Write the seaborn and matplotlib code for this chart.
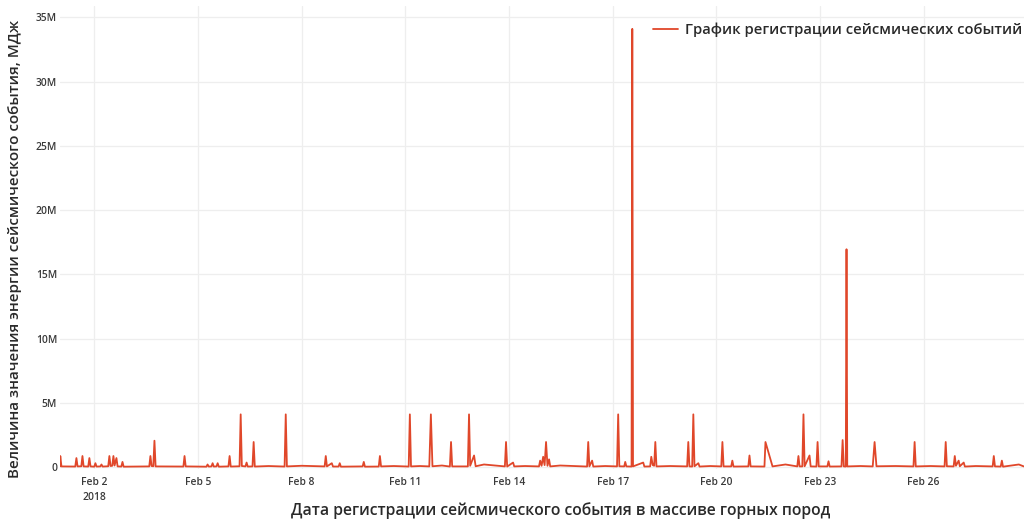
import matplotlib
matplotlib.use("Agg")
import matplotlib.pyplot as plt
import matplotlib.ticker as mticker
import numpy as np
import pandas as pd
import seaborn as sns

# hours since 2018-02-01 00:00 and energy of the event, millions of MJ
hours = [
    0.0, 0.3, 1.1, 10.7, 11.5, 12.3, 14.9, 15.7, 16.5, 19.7, 20.5, 21.3,
    23.9, 24.7, 25.5, 28.1, 28.9, 29.7, 33.6, 34.4, 35.2, 36.4, 37.2, 38.0,
    39.3, 40.1, 42.7, 43.5, 44.3, 62.1, 62.9, 63.7, 64.9, 65.7, 66.5, 85.8,
    86.6, 87.4, 101.8, 102.6, 103.4, 105.3, 106.1, 106.9, 108.8, 109.6, 110.4,
    117.1, 117.9, 118.7, 124.8, 125.6, 126.4, 128.9, 129.7, 130.5, 133.8,
    134.6, 135.4, 145.0, 156.1, 156.9, 157.7, 164.5, 168.0, 173.6, 183.9,
    184.7, 185.5, 188.9, 189.7, 193.6, 194.4, 195.2, 210.3, 211.1, 211.9,
    221.5, 222.3, 223.1, 232.0, 242.3, 243.1, 243.9, 250.1, 256.6, 257.7,
    258.8, 265.4, 270.9, 271.7, 272.5, 283.4, 284.2, 285.0, 287.7, 288.8,
    294.6, 302.3, 309.1, 309.9, 310.7, 314.8, 315.6, 323.1, 332.8, 333.6,
    334.6, 335.7, 336.7, 337.7, 338.7, 339.8, 340.6, 347.5, 357.9, 366.2,
    367.0, 367.8, 369.7, 370.5, 378.8, 387.0, 387.8, 388.6, 392.0, 392.7,
    393.5, 397.1, 397.6, 398.1, 405.2, 406.0, 410.0, 410.8, 411.8, 412.8,
    413.6, 414.4, 424.0, 435.7, 436.5, 437.3, 439.2, 440.0, 440.8, 443.5,
    444.3, 451.8, 459.4, 460.2, 461.0, 466.3, 467.1, 467.9, 478.2, 479.0,
    479.8, 489.4, 490.1, 495.0, 504.0, 512.2, 513.0, 513.8, 515.7, 516.5,
    517.3, 520.7, 521.5, 525.5, 526.3, 527.1, 533.1, 533.9, 534.7, 542.9,
    543.7, 544.5, 545.9, 546.4, 546.9, 556.2, 564.6, 565.9, 567.2, 580.5,
    592.9, 593.7, 594.5, 604.9, 614.5, 615.3, 616.1, 620.8, 621.6, 622.4,
    624.3, 625.1, 627.8, 628.6, 636.2, 647.9, 648.7, 649.5, 653.5, 654.3,
    655.1, 666.1, 669.5,
]
energy_m = [
    0.05, 0.86, 0.05, 0.04, 0.70, 0.05, 0.06, 0.86, 0.05, 0.04, 0.70, 0.05,
    0.03, 0.30, 0.04, 0.05, 0.20, 0.04, 0.06, 0.86, 0.08, 0.10, 0.86, 0.12,
    0.70, 0.05, 0.04, 0.40, 0.03, 0.05, 0.86, 0.08, 0.06, 2.05, 0.05, 0.04,
    0.86, 0.05, 0.03, 0.20, 0.04, 0.05, 0.30, 0.04, 0.05, 0.30, 0.03,
    0.05, 0.86, 0.04, 0.06, 4.10, 0.08, 0.05, 0.35, 0.04, 0.05,
    1.95, 0.04, 0.08, 0.04, 4.10, 0.05, 0.08, 0.10, 0.08, 0.05,
    0.86, 0.05, 0.30, 0.04, 0.04, 0.30, 0.03, 0.05, 0.40, 0.03,
    0.04, 0.86, 0.05, 0.08, 0.04, 4.10, 0.05, 0.08, 0.05, 4.10,
    0.06, 0.12, 0.04, 1.95, 0.05, 0.05, 4.10, 0.10, 0.90, 0.06,
    0.20, 0.12, 0.05, 1.95, 0.04, 0.35, 0.05, 0.08, 0.05, 0.50,
    0.10, 0.80, 0.15, 1.95, 0.10, 0.60, 0.05, 0.12, 0.08, 0.04,
    1.95, 0.05, 0.50, 0.04, 0.08, 0.05, 4.10, 0.06, 0.05, 0.40,
    0.05, 0.04, 34.10, 0.05, 0.35, 0.04, 0.05, 0.80, 0.15, 0.10,
    1.95, 0.05, 0.08, 0.05, 1.95, 0.05, 0.04, 4.10, 0.06, 0.30,
    0.04, 0.08, 0.05, 1.95, 0.05, 0.05, 0.50, 0.04, 0.05, 0.90,
    0.05, 0.04, 1.95, 0.05, 0.20, 0.05, 0.86, 0.05, 0.05, 4.10,
    0.06, 0.90, 0.05, 0.04, 1.95, 0.05, 0.05, 0.45, 0.04, 0.05,
    2.10, 0.05, 0.04, 16.95, 0.05, 0.08, 0.05, 1.95, 0.06, 0.08,
    0.05, 1.95, 0.05, 0.08, 0.05, 1.95, 0.06, 0.05, 0.86, 0.10,
    0.50, 0.06, 0.35, 0.04, 0.08, 0.05, 0.86, 0.05, 0.04, 0.50,
    0.03, 0.20, 0.05,
]

START = pd.Timestamp("2018-02-01")
LINE_COLOUR = "#E0472A"
TEXT_COLOUR = "#2a2a2a"
LABEL = "График регистрации сейсмических событий"

sns.set_theme(style="whitegrid")
plt.rcParams["font.family"] = ["Open Sans", "DejaVu Sans"]


def main():
    df = pd.DataFrame({
        "time": START + pd.to_timedelta(hours, unit="h"),
        "energy": np.array(energy_m) * 1e6,
    })

    fig = plt.figure(figsize=(10.32, 5.24), dpi=100)
    ax = fig.add_axes([0.058, 0.105, 0.934, 0.884])

    sns.lineplot(data=df, x="time", y="energy", color=LINE_COLOUR, lw=1.3,
                 label=LABEL, ax=ax)

    ax.set_xlim(df["time"].min(), df["time"].max())
    ax.set_ylim(-0.15e6, 35.9e6)

    ax.yaxis.set_major_locator(mticker.MultipleLocator(5e6))
    ax.yaxis.set_major_formatter(mticker.FuncFormatter(
        lambda v, _: "0" if v == 0 else f"{v / 1e6:.0f}M"))

    ticks = pd.date_range("2018-02-02", "2018-02-26", freq="3D")
    ax.set_xticks(ticks)
    ax.set_xticklabels([f"Feb {t.day}\n2018" if i == 0 else f"Feb {t.day}"
                        for i, t in enumerate(ticks)])

    ax.tick_params(axis="both", labelsize=7.4, colors="#3a3a3a", length=0)
    ax.tick_params(axis="x", pad=6)
    ax.tick_params(axis="y", pad=2)
    for lbl in ax.get_xticklabels() + ax.get_yticklabels():
        lbl.set_fontweight("semibold")
    for lbl in ax.get_xticklabels():
        lbl.set_linespacing(1.5)
    ax.grid(True, color="#eeeeee", lw=0.9)
    for s in ax.spines.values():
        s.set_visible(False)

    ax.set_xlabel("Дата регистрации сейсмического события в массиве горных пород",
                  fontsize=11.3, color=TEXT_COLOUR, fontweight="semibold")
    ax.set_ylabel("Величина значения энергии сейсмического события, МДж",
                  fontsize=11.0, color=TEXT_COLOUR, fontweight="semibold")
    ax.xaxis.set_label_coords(0.52, -0.072)
    ax.yaxis.set_label_coords(-0.039, 0.475)

    leg = ax.legend(loc="center right", frameon=False,
                    prop={"size": 10.6, "weight": "semibold"},
                    handlelength=1.7, handletextpad=0.45, borderpad=0,
                    borderaxespad=0, bbox_to_anchor=(0.998, 0.948))
    for t in leg.get_texts():
        t.set_color(TEXT_COLOUR)

    fig.savefig("out.png", dpi=100)
    plt.close(fig)


if __name__ == "__main__":
    main()
